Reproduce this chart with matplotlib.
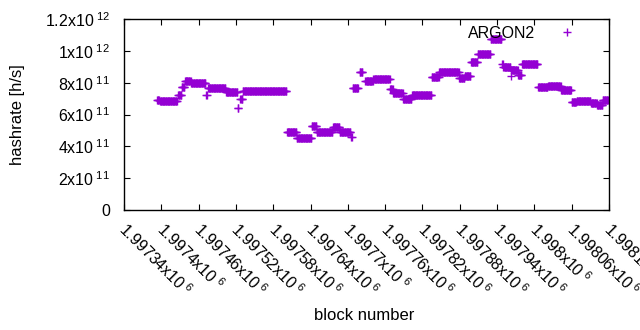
"""Hashrate per block (ARGON2), gnuplot-like scatter of '+' markers."""
import numpy as np
import matplotlib
matplotlib.use("Agg")
import matplotlib.pyplot as plt
import matplotlib.transforms as mtrans
from matplotlib.ticker import FixedLocator, FixedFormatter

# segments of constant hashrate: first block, last block, value (x1e11 h/s)
seg_start = [1997393, 1997398, 1997427, 1997433, 1997438, 1997448, 1997472, 1997475,
             1997504, 1997523, 1997527, 1997531, 1997602, 1997618, 1997642, 1997650,
             1997676, 1997687, 1997705, 1997708, 1997719, 1997728, 1997741, 1997768,
             1997773, 1997789, 1997803, 1997835, 1997847, 1997879, 1997888, 1997898,
             1997909, 1997930, 1997948, 1997950, 1997962, 1997963, 1997974, 1997980,
             1998006, 1998022, 1998043, 1998060, 1998068, 1998091, 1998101, 1998110]
seg_end = [1997396, 1997425, 1997432, 1997437, 1997447, 1997471, 1997473, 1997503,
           1997522, 1997524, 1997530, 1997601, 1997617, 1997641, 1997649, 1997675,
           1997686, 1997704, 1997706, 1997716, 1997723, 1997740, 1997767, 1997772,
           1997788, 1997802, 1997834, 1997846, 1997878, 1997887, 1997897, 1997908,
           1997929, 1997947, 1997949, 1997961, 1997962, 1997973, 1997979, 1998005,
           1998021, 1998042, 1998059, 1998067, 1998090, 1998100, 1998109, 1998118]
seg_value = [6.9, 6.85, 7.25, 7.7, 8.1, 7.97, 7.2, 7.66,
             7.4, 6.4, 7.0, 7.47, 4.93, 4.55, 5.25, 4.93,
             5.2, 4.87, 4.6, 7.66, 8.67, 8.1, 8.2, 7.6,
             7.35, 7.0, 7.25, 8.35, 8.7, 8.3, 8.45, 9.3,
             9.77, 10.77, 9.2, 9.0, 8.4, 8.8, 8.5, 9.2,
             7.7, 7.8, 7.57, 6.8, 6.85, 6.7, 6.6, 6.9]

x_ticks = [1997340 + 60 * i for i in range(14)]
x_labels = [r"1.99734x10$^{\ 6}$", r"1.9974x10$^{\ 6}$", r"1.99746x10$^{\ 6}$",
            r"1.99752x10$^{\ 6}$", r"1.99758x10$^{\ 6}$", r"1.99764x10$^{\ 6}$",
            r"1.9977x10$^{\ 6}$", r"1.99776x10$^{\ 6}$", r"1.99782x10$^{\ 6}$",
            r"1.99788x10$^{\ 6}$", r"1.99794x10$^{\ 6}$", r"1.998x10$^{\ 6}$",
            r"1.99806x10$^{\ 6}$", r"1.99812x10$^{\ 6}$"]
y_ticks = [0, 2e11, 4e11, 6e11, 8e11, 1e12, 1.2e12]
y_labels = ["0", r"2x10$^{\ 11}$", r"4x10$^{\ 11}$", r"6x10$^{\ 11}$",
            r"8x10$^{\ 11}$", r"1x10$^{\ 12}$", r"1.2x10$^{\ 12}$"]

plt.rcParams["font.family"] = ["Liberation Sans", "DejaVu Sans"]
plt.rcParams["mathtext.fontset"] = "custom"
plt.rcParams["mathtext.rm"] = "Liberation Sans"
plt.rcParams["mathtext.it"] = "Liberation Sans"
plt.rcParams["mathtext.default"] = "regular"

blocks = np.concatenate([np.arange(s, e + 1) for s, e in zip(seg_start, seg_end)])
rates = np.concatenate([np.full(e - s + 1, v * 1e11)
                        for s, e, v in zip(seg_start, seg_end, seg_value)])

fig = plt.figure(figsize=(6.4, 3.3), dpi=100)
ax = fig.add_axes([124 / 640, 1 - 210 / 330, 485 / 640, 191 / 330])

ax.plot(blocks, rates, linestyle="none", marker="+", markersize=5.8,
        markeredgewidth=1.0, color="#9400d3", label="ARGON2")

ax.set_xlim(1997340, 1998120)
ax.set_ylim(0, 1.2e12)
ax.xaxis.set_major_locator(FixedLocator(x_ticks))
ax.xaxis.set_major_formatter(FixedFormatter(x_labels))
ax.yaxis.set_major_locator(FixedLocator(y_ticks))
ax.yaxis.set_major_formatter(FixedFormatter(y_labels))
ax.tick_params(direction="in", length=4, width=0.8, top=True, right=True,
               labelsize=11.5, colors="black")
ax.tick_params(axis="y", pad=10)
ax.tick_params(axis="x", pad=2)
shift = mtrans.ScaledTranslation(0.05, -0.07, fig.dpi_scale_trans)
for lab in ax.get_xticklabels():
    lab.set_rotation(-45)
    lab.set_ha("left")
    lab.set_va("top")
    lab.set_rotation_mode("anchor")
    lab.set_transform(lab.get_transform() + shift)
for sp in ax.spines.values():
    sp.set_linewidth(1.0)

ax.set_xlabel("block number", fontsize=12)
ax.xaxis.set_label_coords((364 - 124) / 485, -(308 - 210) / 191)
ax.set_ylabel("hashrate [h/s]", fontsize=12)
ax.yaxis.set_label_coords(-(124 - 25) / 485, 0.5)

ax.legend(loc="upper right", bbox_to_anchor=(0.96, 1.04), frameon=False,
          markerfirst=False, numpoints=1, handletextpad=1.5, fontsize=11.5,
          handlelength=1.0)

fig.savefig("out.png", dpi=100)
